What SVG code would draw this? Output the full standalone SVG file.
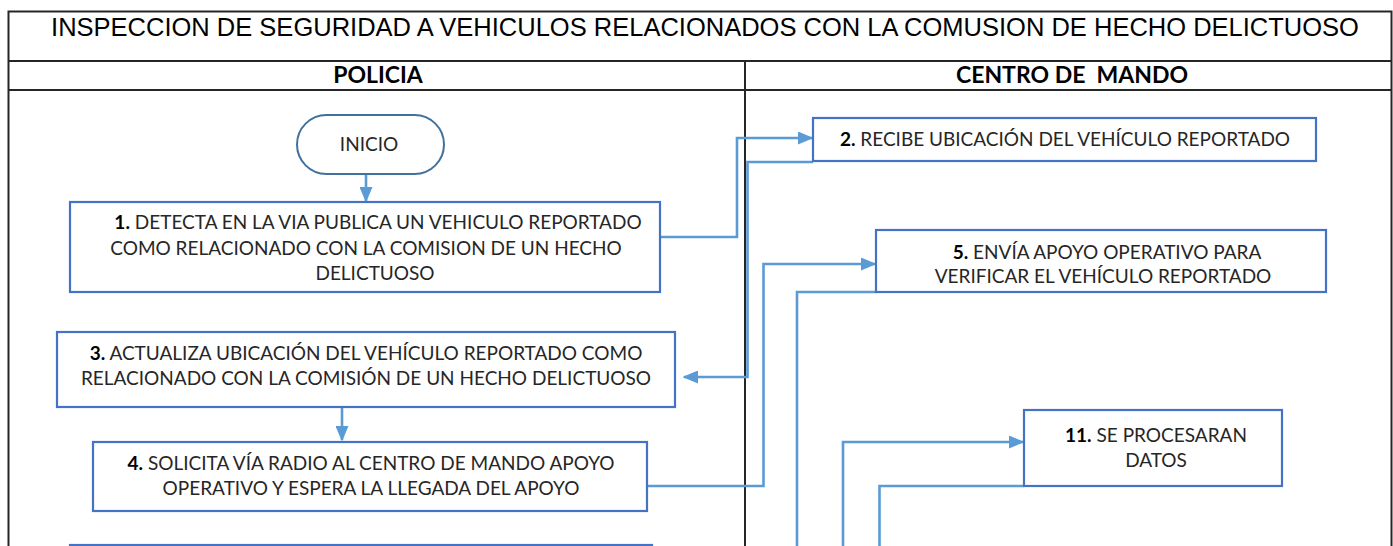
<svg xmlns="http://www.w3.org/2000/svg" width="1393" height="546" viewBox="0 0 1393 546">
<style>
.frame{fill:none;stroke:#262626;stroke-width:2}
.box{fill:#fff;stroke:#4472C4;stroke-width:2.2}
.term{fill:#fff;stroke:#41719C;stroke-width:2}
.conn{fill:none;stroke:#5B9BD5;stroke-width:2.6}
.t{font-family:Lato,"Open Sans",sans-serif;font-size:19px;fill:#262626;text-anchor:middle}
.b{font-weight:bold;fill:#000}
.hdr{font-family:Lato,"Open Sans",sans-serif;font-size:23px;font-weight:bold;fill:#000;text-anchor:middle}
.title{font-family:"Liberation Sans",Arial,sans-serif;font-size:25.5px;fill:#000;text-anchor:middle}
</style>
<defs>
<marker id="ah" markerWidth="6" markerHeight="5" refX="5.4" refY="2.5" orient="auto" markerUnits="strokeWidth">
<path d="M0,0 L6,2.5 L0,5 Z" fill="#5B9BD5"/>
</marker>
</defs>
<rect width="1393" height="546" fill="#fff"/>
<g id="frame">
<path class="frame" d="M8.5,560 V11.5 H1391.5 V560"/>
<line class="frame" x1="8.5" y1="61" x2="1391.5" y2="61"/>
<line class="frame" x1="8.5" y1="90" x2="1391.5" y2="90"/>
<line class="frame" x1="745" y1="61" x2="745" y2="560"/>
<text class="title" x="705" y="36">INSPECCION DE SEGURIDAD A VEHICULOS RELACIONADOS CON LA COMUSION DE HECHO DELICTUOSO</text>
<text class="hdr" x="378" y="83">POLICIA</text>
<text class="hdr" x="1072" y="83" xml:space="preserve">CENTRO DE  MANDO</text>
</g>
<g id="connectors">
<path class="conn" d="M366,174 V201" marker-end="url(#ah)"/>
<path class="conn" d="M660,237 H737 V138 H812" marker-end="url(#ah)"/>
<path class="conn" d="M813,162 H747.5 V377 H684" marker-end="url(#ah)"/>
<path class="conn" d="M342,407 V440" marker-end="url(#ah)"/>
<path class="conn" d="M647,486 H763.5 V264 H875" marker-end="url(#ah)"/>
<path class="conn" d="M876,292 H797 V560"/>
<path class="conn" d="M843,560 V442 H1023" marker-end="url(#ah)"/>
<path class="conn" d="M1024,486 H879.5 V560"/>
</g>
<g id="inicio">
<rect class="term" x="297" y="115" width="147" height="59" rx="29.5"/>
<text class="t" x="369" y="151">INICIO</text>
</g>
<g id="n1">
<rect class="box" x="70" y="202" width="590" height="90"/>
<text class="t" x="378" y="229"><tspan class="b">1.</tspan> DETECTA EN LA VIA PUBLICA UN VEHICULO REPORTADO</text>
<text class="t" x="366" y="255">COMO RELACIONADO CON LA COMISION DE UN HECHO</text>
<text class="t" x="375" y="280">DELICTUOSO</text>
</g>
<g id="n2">
<rect class="box" x="813" y="118" width="503" height="43"/>
<text class="t" x="1065" y="146"><tspan class="b">2.</tspan> RECIBE UBICACIÓN DEL VEHÍCULO REPORTADO</text>
</g>
<g id="n3">
<rect class="box" x="57" y="332" width="618" height="75"/>
<text class="t" x="366" y="360"><tspan class="b">3.</tspan> ACTUALIZA UBICACIÓN DEL VEHÍCULO REPORTADO COMO</text>
<text class="t" x="366" y="385">RELACIONADO CON LA COMISIÓN DE UN HECHO DELICTUOSO</text>
</g>
<g id="n4">
<rect class="box" x="93" y="442" width="554" height="69"/>
<text class="t" x="371" y="470"><tspan class="b">4.</tspan> SOLICITA VÍA RADIO AL CENTRO DE MANDO APOYO</text>
<text class="t" x="371" y="495">OPERATIVO Y ESPERA LA LLEGADA DEL APOYO</text>
</g>
<g id="n5">
<rect class="box" x="876" y="230" width="450" height="62"/>
<text class="t" x="1107" y="259"><tspan class="b">5.</tspan> ENVÍA APOYO OPERATIVO PARA</text>
<text class="t" x="1103" y="283">VERIFICAR EL VEHÍCULO REPORTADO</text>
</g>
<g id="n11">
<rect class="box" x="1024" y="410" width="258" height="76"/>
<text class="t" x="1156" y="442"><tspan class="b">11.</tspan> SE PROCESARAN</text>
<text class="t" x="1156" y="467">DATOS</text>
</g>
<g id="n6">
<rect class="box" x="70" y="545" width="582" height="30"/>
</g>
</svg>
